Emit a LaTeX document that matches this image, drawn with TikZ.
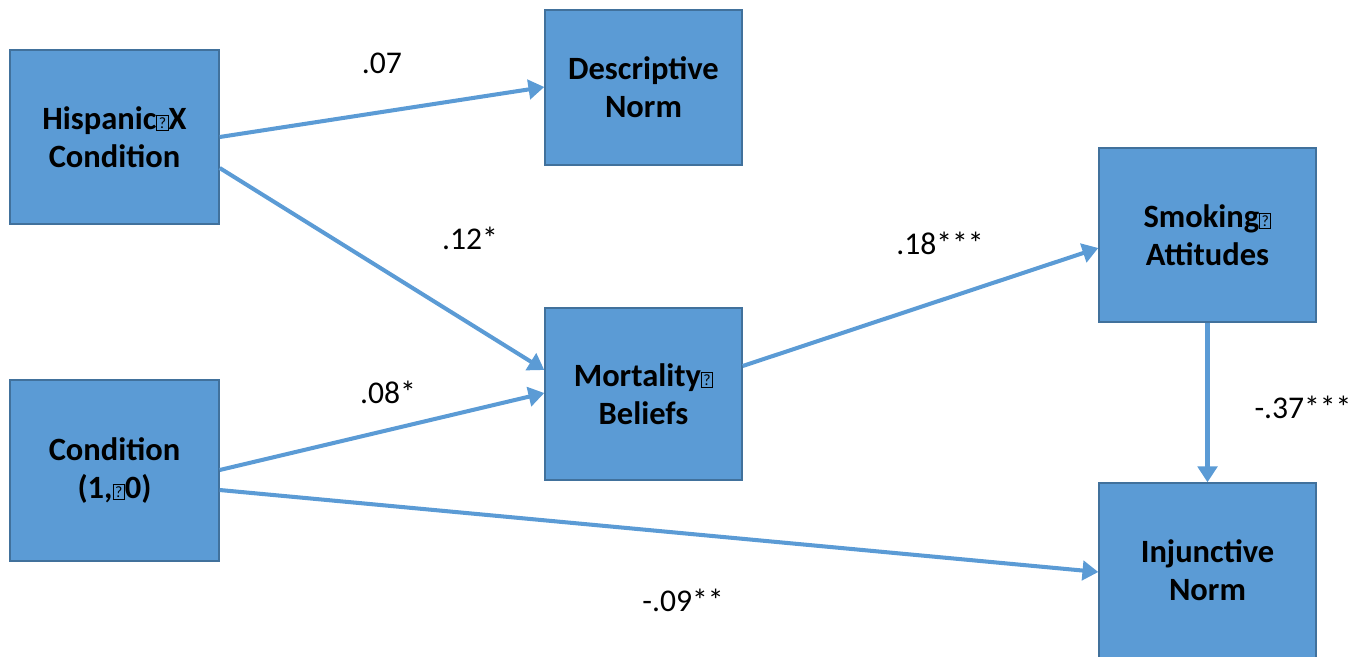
\documentclass[tikz,border=0pt]{standalone}
\usepackage{fontspec}
\setmainfont{Carlito}
\usepackage{tikz}
\usetikzlibrary{arrows.meta, positioning}
\definecolor{boxblue}{RGB}{91, 155, 213}
\definecolor{edgeblue}{RGB}{65, 113, 156}
\newcommand{\nogl}{{\setlength{\fboxsep}{0.8pt}\setlength{\fboxrule}{0.6pt}\raisebox{0.5pt}{\fbox{\fontsize{9}{9}\selectfont\mdseries ?}}}}

\begin{document}
\begin{tikzpicture}[x=0.02cm, y=-0.02cm,
  varbox/.style={draw=edgeblue, fill=boxblue, line width=0.8pt, align=center,
    font=\fontsize{18.5}{21.6}\selectfont\bfseries, inner sep=0pt},
  path/.style={draw=boxblue, line width=2.3pt, -{Triangle[length=9pt, width=11pt]}},
  coef/.style={font=\fontsize{18}{21.6}\selectfont}]
  \useasboundingbox (0,0) rectangle (1369,656);
  % variables
  \node[varbox, minimum width=209*0.02cm, minimum height=174*0.02cm] (hispx) at (114.5,137) {Hispanic\nogl X\\Condition};
  \node[varbox, minimum width=209*0.02cm, minimum height=181*0.02cm] (cond) at (114.5,470.5) {Condition\\(1,\nogl 0)};
  \node[varbox, minimum width=197*0.02cm, minimum height=155*0.02cm] (descnorm) at (643.5,87.5) {Descriptive\\Norm};
  \node[varbox, minimum width=197*0.02cm, minimum height=172*0.02cm] (mortal) at (643.5,394) {Mortality\nogl\\Beliefs};
  \node[varbox, minimum width=217*0.02cm, minimum height=174*0.02cm] (smoking) at (1207.5,235) {Smoking\nogl\\Attitudes};
  \begin{scope}
    \clip (0,0) rectangle (1369,656);
    \node[varbox, minimum width=217*0.02cm, minimum height=190*0.02cm] (injnorm) at (1207.5,578) {};
  \end{scope}
  \node[varbox, draw=none, fill=none] (injtext) at (1207.5,570) {Injunctive\\Norm};
  % paths
  \draw[path] (hispx.east) -- (descnorm.west |- 0,87);
  \draw[path] (hispx.east |- 0,168) -- (mortal.west |- 0,370);
  \draw[path] (cond.east |- 0,470) -- (mortal.west |- 0,393);
  \draw[path] (cond.east |- 0,490) -- (injnorm.west |- 0,572);
  \draw[path] (mortal.east |- 0,366) -- (smoking.west |- 0,248);
  \draw[path] (smoking.south) -- (injnorm.north);
  % coefficients
  \node[coef] (c1) at (382,63) {.07};
  \node[coef] (c2) at (470,238) {.12*};
  \node[coef] (c3) at (388,392) {.08*};
  \node[coef] (c4) at (683,600) {-.09**};
  \node[coef] (c5) at (940,243) {.18***};
  \node[coef] (c6) at (1303,407) {-.37***};
\end{tikzpicture}
\end{document}
